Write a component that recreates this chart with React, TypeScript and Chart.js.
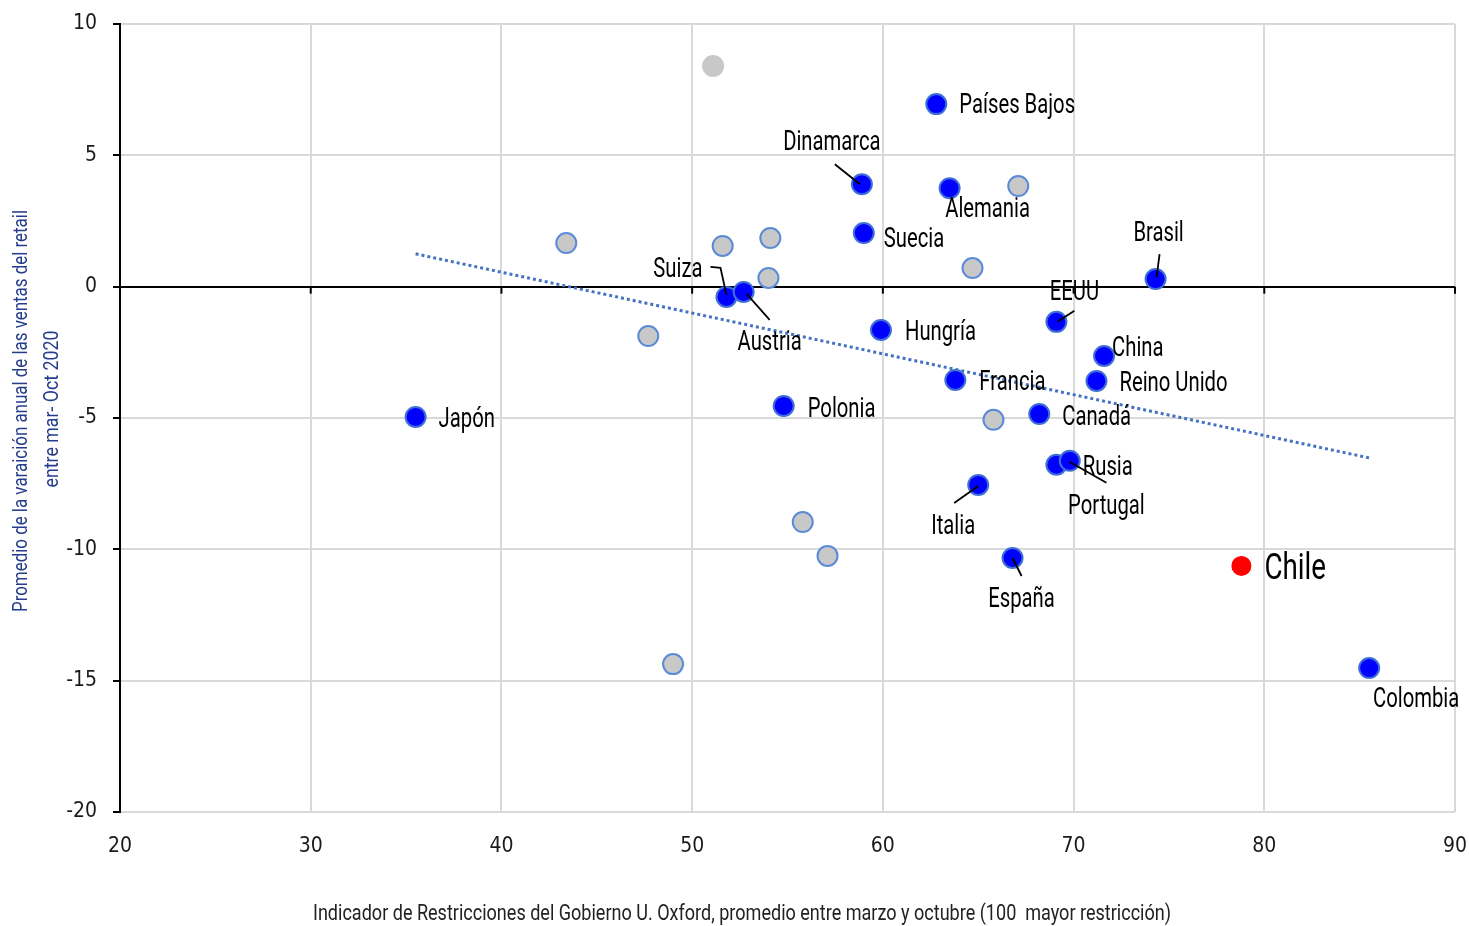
import React, { useEffect, useRef } from "react";
import { Chart, registerables } from "chart.js";

Chart.register(...registerables);

const FONT = 'Roboto, "DejaVu Sans Condensed", sans-serif';
const TICK_FONT = '"DejaVu Sans Condensed", Roboto, sans-serif';

// ---- Data ----
const countryNames = [
  "Japón", "Países Bajos", "Dinamarca", "Alemania", "Suecia", "Brasil", "Suiza", "Austria",
  "Hungría", "EEUU", "China", "Reino Unido", "Francia", "Polonia", "Canadá", "Portugal",
  "Rusia", "Italia", "España", "Colombia",
];
const countryX = [
  35.5, 62.8, 58.9, 63.5, 59.0, 74.3, 51.8, 52.7,
  59.9, 69.1, 71.6, 71.2, 63.8, 54.8, 68.2, 69.1,
  69.8, 65.0, 66.8, 85.5,
];
const countryY = [
  -4.96, 6.95, 3.9, 3.75, 2.04, 0.29, -0.39, -0.2,
  -1.65, -1.34, -2.64, -3.59, -3.55, -4.54, -4.85, -6.78,
  -6.63, -7.55, -10.33, -14.52,
];

const otherX = [51.1, 43.4, 51.6, 54.1, 54.0, 47.7, 67.1, 64.7, 65.8, 55.8, 57.1, 49.0];
const otherY = [8.4, 1.66, 1.55, 1.85, 0.33, -1.88, 3.83, 0.71, -5.07, -8.96, -10.25, -14.37];

const chileName = "Chile";
const chileX = [78.8];
const chileY = [-10.63];

const trendX = [35.5, 85.5];
const trendY = [1.25, -6.52];

const xTicks = [20, 30, 40, 50, 60, 70, 80, 90];
const yTicks = [-20, -15, -10, -5, 0, 5, 10];

const xTitle = "Indicador de Restricciones del Gobierno U. Oxford, promedio entre marzo y octubre (100  mayor restricción)";
const yTitle1 = "Promedio de la varaición anual de las ventas del retail";
const yTitle2 = "entre mar- Oct 2020";

// ---- Label placement (pixel offsets from the point) ----
type Lay = { dx: number; dy: number; align: CanvasTextAlign; leader?: number[] };
const labelLayout: Record<string, Lay> = {
  "Japón": { dx: 23, dy: 1, align: "left" },
  "Países Bajos": { dx: 23, dy: 0, align: "left" },
  "Dinamarca": { dx: -30, dy: -43, align: "center", leader: [-27, -20, -2, 0] },
  "Alemania": { dx: 38, dy: 20, align: "center" },
  "Suecia": { dx: 20, dy: 5, align: "left" },
  "Brasil": { dx: 3, dy: -47, align: "center", leader: [4, -25, 1, -2] },
  "Suiza": { dx: -24, dy: -29, align: "right", leader: [-16, -30, -6, -29, 0, -2] },
  "Austria": { dx: 26, dy: 49, align: "center", leader: [3, 2, 26, 28] },
  "Hungría": { dx: 24, dy: 1, align: "left" },
  "EEUU": { dx: 18, dy: -31, align: "center", leader: [1, 0, 18, -11] },
  "China": { dx: 8, dy: -9, align: "left" },
  "Reino Unido": { dx: 23, dy: 1, align: "left" },
  "Francia": { dx: 24, dy: 1, align: "left" },
  "Polonia": { dx: 24, dy: 2, align: "left" },
  "Canadá": { dx: 23, dy: 2, align: "left" },
  "Portugal": { dx: 50, dy: 40, align: "center", leader: [13, -3, 50, 18] },
  "Rusia": { dx: 13, dy: 5, align: "left" },
  "Italia": { dx: -25, dy: 40, align: "center", leader: [0, 1, -24, 18] },
  "España": { dx: 9, dy: 40, align: "center", leader: [0, 0, 9, 18] },
  "Colombia": { dx: 47, dy: 30, align: "center" },
};

function drawText(
  ctx: CanvasRenderingContext2D, text: string, x: number, y: number,
  align: CanvasTextAlign, size: number, color: string,
  opts: { sx?: number; fitWidth?: number; rot?: number } = {},
) {
  ctx.save();
  ctx.translate(x, y);
  if (opts.rot) ctx.rotate(opts.rot);
  ctx.font = `${size}px ${FONT}`;
  let sx = opts.sx ?? 0.75;
  if (opts.fitWidth) sx = opts.fitWidth / ctx.measureText(text).width;
  ctx.scale(sx, 1);
  ctx.fillStyle = color;
  ctx.textAlign = align;
  ctx.textBaseline = "middle";
  ctx.fillText(text, 0, 0);
  ctx.restore();
}

const overlayPlugin = {
  id: "overlay",
  afterDatasetsDraw(chart: any) {
    const ctx: CanvasRenderingContext2D = chart.ctx;
    const xs = chart.scales.x;
    const ys = chart.scales.y;
    ctx.save();
    const y0 = ys.getPixelForValue(0);
    ctx.strokeStyle = "#000";
    ctx.lineWidth = 2;
    xTicks.forEach((v) => {
      const px = xs.getPixelForValue(v);
      ctx.beginPath();
      ctx.moveTo(px, y0);
      ctx.lineTo(px, y0 + 7);
      ctx.stroke();
    });
    countryNames.forEach((name, i) => {
      const px = xs.getPixelForValue(countryX[i]);
      const py = ys.getPixelForValue(countryY[i]);
      const lay = labelLayout[name];
      if (!lay) return;
      if (lay.leader) {
        ctx.strokeStyle = "#000";
        ctx.lineWidth = 1.8;
        ctx.beginPath();
        for (let k = 0; k < lay.leader.length; k += 2) {
          const lx = px + lay.leader[k];
          const ly = py + lay.leader[k + 1];
          if (k === 0) ctx.moveTo(lx, ly);
          else ctx.lineTo(lx, ly);
        }
        ctx.stroke();
      }
      drawText(ctx, name, px + lay.dx, py + lay.dy + 2, lay.align, 27, "#000");
    });
    const cx = xs.getPixelForValue(chileX[0]);
    const cy = ys.getPixelForValue(chileY[0]);
    drawText(ctx, chileName, cx + 23, cy + 4, "left", 37, "#000");
    ctx.restore();
  },
  afterDraw(chart: any) {
    const ctx: CanvasRenderingContext2D = chart.ctx;
    drawText(ctx, xTitle, 742, 914, "center", 22, "#222", { fitWidth: 858 });
    drawText(ctx, yTitle1, 22, 411, "center", 21, "#263C8C", { fitWidth: 402, rot: -Math.PI / 2 });
    drawText(ctx, yTitle2, 53, 409, "center", 21, "#263C8C", { fitWidth: 157, rot: -Math.PI / 2 });
  },
};

const zeroPad = (s: any) => {
  s.paddingLeft = 0;
  s.paddingRight = 0;
  s.paddingTop = 0;
  s.paddingBottom = 0;
};

export default function App() {
  const ref = useRef<HTMLCanvasElement | null>(null);
  useEffect(() => {
    if (!ref.current) return;
    const chart = new Chart(ref.current, {
      type: "scatter",
      data: {
        datasets: [
          {
            label: "trend",
            data: trendX.map((x, i) => ({ x, y: trendY[i] })),
            showLine: true,
            borderColor: "#4472C4",
            borderWidth: 3,
            borderDash: [3, 3],
            pointRadius: 0,
            fill: false,
          } as any,
          {
            label: "otros",
            data: otherX.map((x, i) => ({ x, y: otherY[i] })),
            backgroundColor: "#C8C8C8",
            borderColor: (c: any) => (c.dataIndex === 0 ? "#C8C8C8" : "#5B8BD6"),
            borderWidth: 2,
            pointRadius: 10,
          },
          {
            label: "países",
            data: countryX.map((x, i) => ({ x, y: countryY[i] })),
            backgroundColor: "#0000FF",
            borderColor: "#3F6FD6",
            borderWidth: 2,
            pointRadius: 10,
          },
          {
            label: chileName,
            data: chileX.map((x, i) => ({ x, y: chileY[i] })),
            backgroundColor: "#FF0000",
            borderColor: "#FF0000",
            borderWidth: 0,
            pointRadius: 10,
          },
        ],
      },
      options: {
        animation: false,
        responsive: false,
        layout: { padding: { top: 24, right: 14, left: 0, bottom: 0 } },
        plugins: { legend: { display: false }, tooltip: { enabled: false } },
        scales: {
          x: {
            type: "linear",
            min: 20,
            max: 90,
            afterBuildTicks: (s: any) => { s.ticks = xTicks.map((v) => ({ value: v })); },
            afterFit: (s: any) => { s.height = 114; zeroPad(s); },
            border: { display: false },
            grid: { color: "#D9D9D9", lineWidth: 2, drawTicks: false },
            ticks: { padding: 22, color: "#1a1a1a", font: { family: TICK_FONT, size: 21 } },
          },
          y: {
            type: "linear",
            min: -20,
            max: 10,
            afterBuildTicks: (s: any) => { s.ticks = yTicks.map((v) => ({ value: v })); },
            afterFit: (s: any) => { s.width = 120; zeroPad(s); },
            border: { display: true, color: "#000", width: 2 },
            grid: {
              color: (c: any) => (c.tick && c.tick.value === 0 ? "#000" : "#D9D9D9"),
              lineWidth: 2,
              tickColor: "#000",
              tickLength: 7,
            },
            ticks: { padding: 16, color: "#1a1a1a", font: { family: TICK_FONT, size: 21 } },
          },
        },
      },
      plugins: [overlayPlugin],
    });
    return () => chart.destroy();
  }, []);
  return (
    <div style={{ position: "fixed", left: 0, top: 0, width: 1469, height: 926, background: "#fff" }}>
      <canvas ref={ref} width={1469} height={926} style={{ width: 1469, height: 926 }} />
    </div>
  );
}
